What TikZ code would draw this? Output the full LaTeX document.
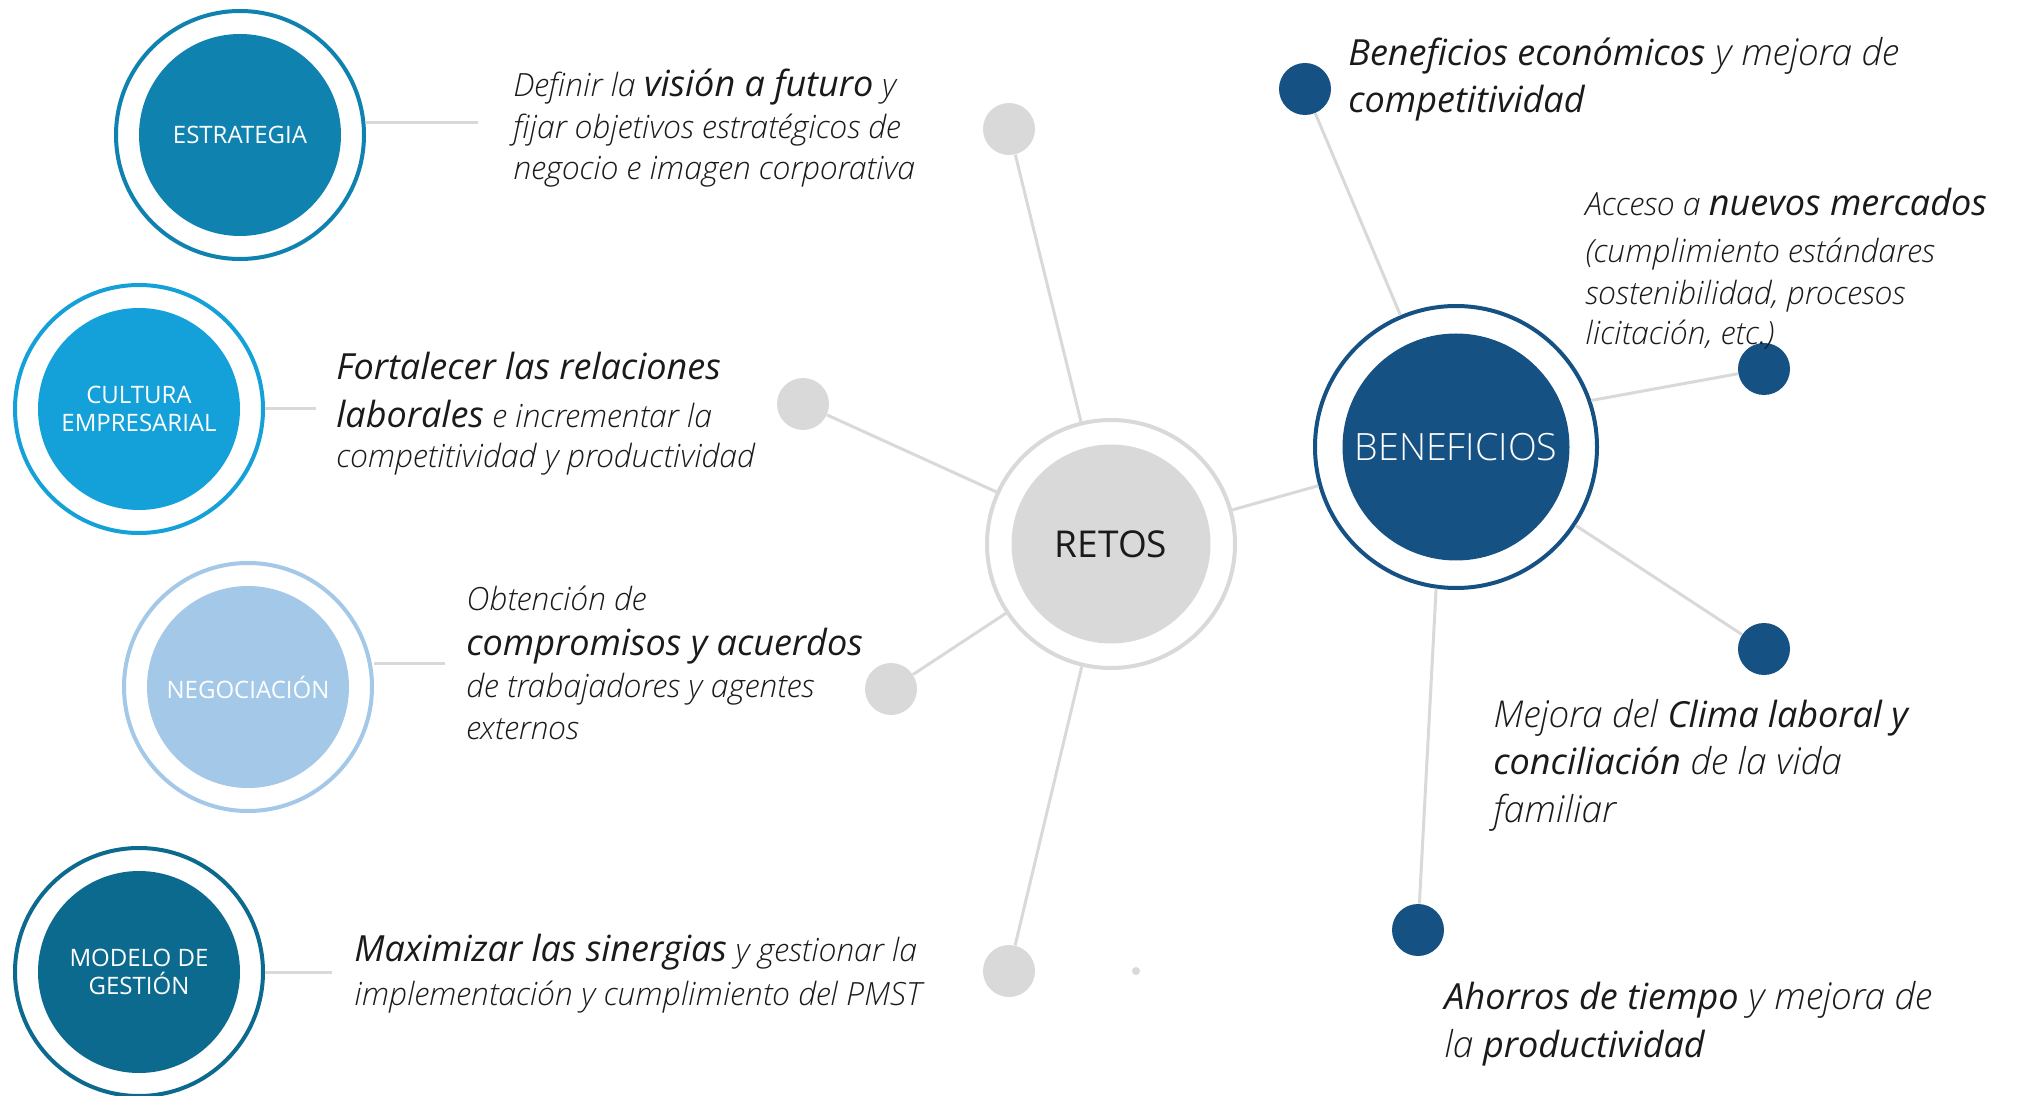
\documentclass[tikz,border=0pt]{standalone}
\usepackage{fontspec}
\setmainfont{Open Sans}
\newfontfamily\lightfont{Open Sans Light}[ItalicFont={Open Sans Light Italic}]
\definecolor{estcol}{HTML}{0F82AF}
\definecolor{culcol}{HTML}{14A0D8}
\definecolor{negcol}{HTML}{A3C8E8}
\definecolor{modcol}{HTML}{0B6A8E}
\definecolor{bencol}{HTML}{165183}
\definecolor{softgray}{HTML}{D9D9D9}
\definecolor{ink}{HTML}{1A1A1A}
\newcommand{\hl}[2][18]{{\normalfont\itshape\fontsize{#1}{21}\selectfont #2}}
\tikzset{
  ring/.style={circle, line width=2pt, fill=white, inner sep=0pt, minimum size=124pt},
  core/.style={circle, inner sep=0pt, minimum size=101pt, text=white, align=center,
    font=\fontsize{12}{14.2}\selectfont},
  dot/.style={circle, inner sep=0pt, minimum size=26pt},
  link/.style={draw=softgray, line width=1.5pt},
  blurb/.style={anchor=base west, align=left, inner sep=0pt, text=ink},
}
\begin{document}
\begin{tikzpicture}[x=0.5pt, y=-0.5pt]
  \useasboundingbox (0,0) rectangle (2025,1096);
  % left column
  \node[ring, draw=estcol] (est) at (240,135) {};
  \node[core, fill=estcol] (estin) at (est) {ESTRATEGIA};
  \node[ring, draw=culcol] (cul) at (139,409) {};
  \node[core, fill=culcol] (culin) at (cul) {CULTURA\\EMPRESARIAL};
  \node[ring, draw=negcol] (neg) at (248,687) {};
  \node[core, fill=negcol] (negin) at (neg) {NEGOCIACIÓN};
  \node[ring, draw=modcol] (mod) at (139,972) {};
  \node[core, fill=modcol] (modin) at (mod) {MODELO DE\\GESTIÓN};

  \coordinate (estend) at (478,123);
  \coordinate (culend) at (316,409);
  \coordinate (negend) at (445,663);
  \coordinate (modend) at (332,972);
  \draw[link] (estend -| est.east) -- (estend);
  \draw[link] (culend -| cul.east) -- (culend);
  \draw[link] (negend -| neg.east) -- (negend);
  \draw[link] (modend -| mod.east) -- (modend);

  % base anchor = last line
  \node[blurb, font=\lightfont\itshape\fontsize{16}{20.7}\selectfont] (esttxt) at (513,180)
    {Definir la \hl{visión a futuro} y\\[0.5pt] fijar objetivos estratégicos de\\ negocio e imagen corporativa};
  \node[blurb, font=\lightfont\itshape\fontsize{16}{20.5}\selectfont] (cultxt) at (336,468)
    {\hl{Fortalecer las relaciones}\\[3pt] \hl{laborales} e incrementar la\\ competitividad y productividad};
  \node[blurb, font=\lightfont\itshape\fontsize{16}{21}\selectfont] (negtxt) at (466,739)
    {Obtención de\\[1.5pt] \hl{compromisos y acuerdos}\\ de trabajadores y agentes\\ externos};
  \node[blurb, font=\lightfont\itshape\fontsize{16}{22}\selectfont] (modtxt) at (354,1005)
    {\hl{Maximizar las sinergias} y gestionar la\\ implementación y cumplimiento del PMST};

  % centre
  \node[ring, draw=softgray] (retos) at (1111,544) {};
  \node[core, fill=softgray, minimum size=99.5pt, text=ink,
    font=\fontsize{18.5}{21}\selectfont] (retosin) at (retos) {RETOS};
  \node[dot, fill=softgray] (g1) at (1009,129) {};
  \node[dot, fill=softgray] (g2) at (803,404) {};
  \node[dot, fill=softgray] (g3) at (891,689) {};
  \node[dot, fill=softgray] (g4) at (1009,971) {};
  \node[dot, fill=softgray, minimum size=4pt] (speck) at (1136,971) {};
  \draw[link] (retos) -- (g1);
  \draw[link] (retos) -- (g2);
  \draw[link] (retos) -- (g3);
  \draw[link] (retos) -- (g4);

  % right side
  \node[ring, draw=bencol, minimum size=141pt] (ben) at (1456,447) {};
  \node[core, fill=bencol, minimum size=113.5pt, font=\lightfont\fontsize{18.8}{21}\selectfont]
    (benin) at (ben) {BENEFICIOS};
  \draw[link] (retos) -- (ben);
  \node[dot, fill=bencol] (b1) at (1305,89) {};
  \node[dot, fill=bencol] (b2) at (1764,369) {};
  \node[dot, fill=bencol] (b3) at (1764,649) {};
  \node[dot, fill=bencol] (b4) at (1418,930) {};
  \draw[link] (ben) -- (b1);
  \draw[link] (ben.19) -- (b2);
  \draw[link] (ben) -- (b3);
  \draw[link] (ben.-98) -- (b4);

  \node[blurb, font=\lightfont\itshape\fontsize{18.5}{23.5}\selectfont] (b1txt) at (1348,113)
    {\hl{Beneficios económicos} y mejora de\\ \hl{competitividad}};
  \node[blurb, font=\lightfont\itshape\fontsize{16}{21}\selectfont] (b2txt) at (1585,345)
    {Acceso a \hl{nuevos mercados}\\[2.5pt] (cumplimiento estándares\\ sostenibilidad, procesos\\[-1pt] licitación, etc.)};
  \node[blurb, font=\lightfont\itshape\fontsize{18.5}{23.5}\selectfont] (b3txt) at (1493,822)
    {Mejora del \hl{Clima laboral y}\\ \hl{conciliación} de la vida\\[0.5pt] familiar};
  \node[blurb, font=\lightfont\itshape\fontsize{18.5}{24}\selectfont] (b4txt) at (1444,1057)
    {\hl{Ahorros de tiempo} y mejora de\\ la \hl{productividad}};
\end{tikzpicture}
\end{document}
